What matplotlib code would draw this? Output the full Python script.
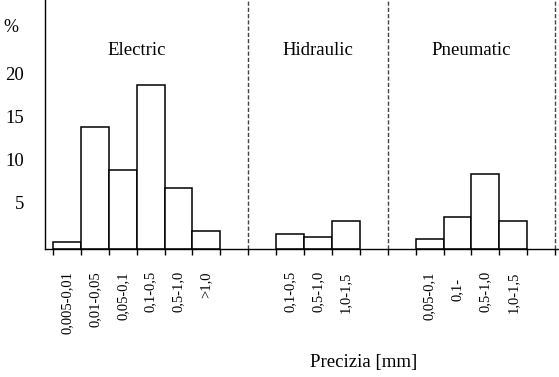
import matplotlib.pyplot as plt
import matplotlib.transforms as mtransforms

plt.rcParams['font.family'] = ['Liberation Serif', 'DejaVu Serif']

# data (percent)
groups = ['Electric', 'Hidraulic', 'Pneumatic']
electric_labels = ['0,005-0,01', '0,01-0,05', '0,05-0,1', '0,1-0,5', '0,5-1,0', '>1,0']
electric_vals = [0.8, 14.2, 9.2, 19.1, 7.1, 2.1]
hidraulic_labels = ['0,1-0,5', '0,5-1,0', '1,0-1,5']
hidraulic_vals = [1.7, 1.4, 3.3]
pneumatic_labels = ['0,05-0,1', '0,1-', '0,5-1,0', '1,0-1,5']
pneumatic_vals = [1.2, 3.7, 8.7, 3.3]
yticks = [5, 10, 15, 20]

# slot positions: one empty slot each side of the dashed separators
electric_x = list(range(0, 6))
hidraulic_x = list(range(8, 11))
pneumatic_x = list(range(13, 17))
separators = [6.5, 11.5, 17.5]
group_centers = [2.5, 9, 14.5]

fig = plt.figure(figsize=(5.59, 3.77), dpi=100)
ax = fig.add_axes([45 / 559, 128 / 377, 514 / 559, 249 / 377])

for xs, vals in [(electric_x, electric_vals), (hidraulic_x, hidraulic_vals),
                 (pneumatic_x, pneumatic_vals)]:
    ax.bar(xs, vals, width=1.0, color='white', edgecolor='black', linewidth=1.1)

for s in separators:
    ax.axvline(s, color='#444444', linestyle=(0, (3, 1.5)), linewidth=1.0)

for name, cx in zip(groups, group_centers):
    ax.text(cx, 23.1, name, ha='center', va='center', fontsize=13.5)

ax.set_xlim(-0.787, 17.64)
ax.set_ylim(0, 29)

ax.spines['top'].set_visible(False)
ax.spines['right'].set_visible(False)
ax.spines['left'].set_linewidth(1.0)
ax.spines['bottom'].set_linewidth(1.0)

# y axis: labels only, no tick marks
ax.set_yticks(yticks)
ax.set_yticklabels([str(v) for v in yticks], fontsize=13.5)
ax.tick_params(axis='y', length=0, pad=15)
for lab in ax.get_yticklabels():
    lab.set_transform(lab.get_transform() +
                      mtransforms.ScaledTranslation(0, 0.04, fig.dpi_scale_trans))
fig.text(11 / 559, 1 - 27 / 377, '%', ha='center', va='center', fontsize=13)

# x axis: category labels at bar centres, tick marks at slot edges
xs_all = electric_x + hidraulic_x + pneumatic_x
labels_all = electric_labels + hidraulic_labels + pneumatic_labels
ax.set_xticks(xs_all)
ax.set_xticklabels(labels_all, rotation=90, fontsize=10.5, va='top')
ax.tick_params(axis='x', which='major', length=0, pad=16)
ax.set_xticks([i - 0.5 for i in range(19)], minor=True)
ax.tick_params(axis='x', which='minor', length=4, width=1.0, direction='out')
for lab in ax.get_xticklabels():
    if lab.get_text() == '0,1-':
        lab.set_transform(lab.get_transform() +
                          mtransforms.ScaledTranslation(0, -0.07, fig.dpi_scale_trans))

fig.text(364 / 559, 1 - 362 / 377, 'Precizia [mm]', ha='center', va='center', fontsize=13.5)

plt.savefig('out.png', dpi=100)
